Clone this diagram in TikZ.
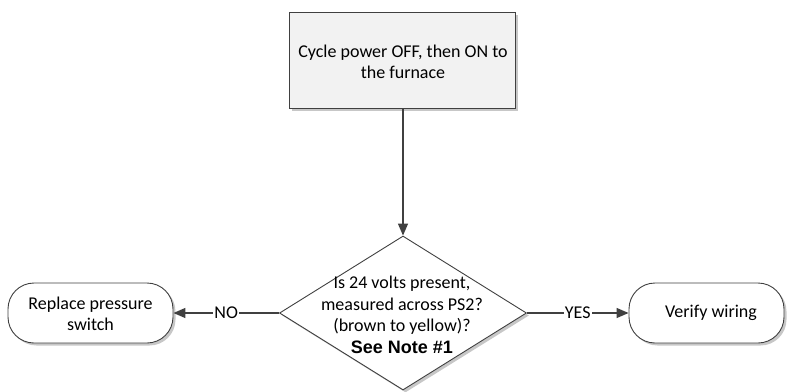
\documentclass[tikz,border=0pt]{standalone}
\usepackage{fontspec}
\setmainfont{Carlito}
\newfontfamily\arialbold{Liberation Sans}
\usetikzlibrary{shapes.geometric,arrows.meta,shadows}
\definecolor{lineC}{HTML}{404040}
\definecolor{boxfill}{HTML}{F2F2F2}
\tikzset{
  shapeline/.style={draw=lineC, line width=0.9pt},
  shadowed/.style={drop shadow={opacity=0.22, shadow xshift=2.5pt, shadow yshift=-2.5pt, fill=black}},
  procbox/.style={shapeline, shadowed, fill=boxfill, rectangle, minimum width=226pt, minimum height=96pt, inner sep=0pt},
  decbox/.style={shapeline, shadowed, fill=white, diamond, minimum width=247pt, minimum height=154pt, inner sep=0pt},
  termbox/.style={shapeline, shadowed, fill=white, rectangle, rounded corners=26pt, minimum height=60pt, inner sep=0pt},
  txt/.style={align=center, font=\fontsize{18}{21.5}\selectfont, inner sep=0pt},
  conn/.style={draw=lineC, line width=1.4pt, -{Triangle[length=12pt,width=10pt]}},
  lbl/.style={fill=white, inner sep=1pt, font=\fontsize{18}{20}\selectfont}
}
\begin{document}
\begin{tikzpicture}[x=1pt,y=-1pt]
\useasboundingbox (0,0) rectangle (787,391);
\node[procbox] (box) at (402,60) {};
\node[txt, font=\fontsize{18}{21}\selectfont] (boxt) at (403,62) {Cycle power OFF, then ON to\\the furnace};
\node[decbox] (d) at (403,313) {};
\node[txt] (dt) at (402,315) {Is 24 volts present,\\measured across PS2?\\(brown to yellow)?\\{\arialbold\bfseries See Note \#1}};
\node[termbox, minimum width=165pt] (left) at (90.5,313) {};
\node[txt] (leftt) at (90.5,314) {Replace pressure\\switch};
\node[termbox, minimum width=155pt] (right) at (706.5,313) {};
\node[txt] (rightt) at (711,313) {Verify wiring};
\draw[conn] (box.south -| d.north) -- (d.north);
\draw[conn] (d.west) -- node[lbl] (no) {NO} (left.east);
\draw[conn] (d.east) -- node[lbl] (yes) {YES} (right.west);
\end{tikzpicture}
\end{document}
